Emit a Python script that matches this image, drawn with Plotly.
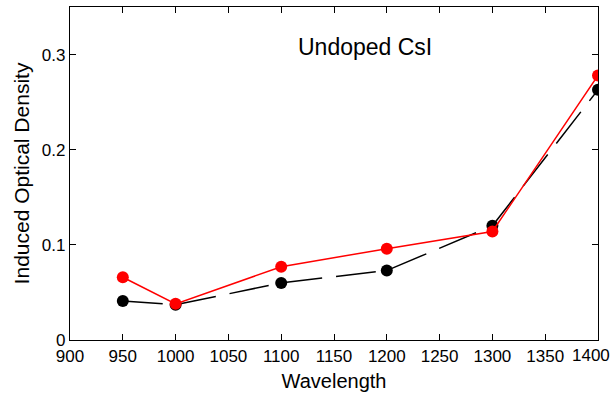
import plotly.graph_objects as go

wavelength = [950, 1000, 1100, 1200, 1300, 1400]
od_black = [0.041, 0.037, 0.060, 0.073, 0.120, 0.263]
od_red = [0.066, 0.038, 0.077, 0.096, 0.114, 0.278]
x_ticks = list(range(900, 1401, 50))
# last label (1400) is placed as an annotation so it can sit inside the page edge
x_ticklabels = [str(v) for v in x_ticks[:-1]] + [""]

fig = go.Figure()
fig.add_trace(go.Scatter(x=wavelength, y=od_black, mode="lines+markers",
                         line=dict(color="black", width=1.5, dash="40px,14px"),
                         marker=dict(color="black", size=12)))
fig.add_trace(go.Scatter(x=wavelength, y=od_red, mode="lines+markers",
                         line=dict(color="red", width=1.5),
                         marker=dict(color="red", size=12)))

axis_common = dict(showgrid=False, zeroline=False, showline=True, linecolor="black",
                   linewidth=1.2, mirror="ticks", ticks="inside", ticklen=6,
                   tickcolor="black", tickfont=dict(size=17, color="black"),
                   automargin=False)
fig.update_xaxes(range=[900, 1400], tickvals=x_ticks, ticktext=x_ticklabels,
                 title=dict(text="Wavelength", font=dict(size=20, color="black"), standoff=9),
                 **axis_common)
fig.update_yaxes(range=[0, 0.35], tickvals=[0, 0.1, 0.2, 0.3], ticktext=["0", "0.1", "0.2", "0.3"],
                 title=dict(text="Induced Optical Density", font=dict(size=21, color="black"), standoff=6),
                 **axis_common)
fig.add_annotation(text=str(x_ticks[-1]), x=x_ticks[-1], y=0, xref="x", yref="y",
                   showarrow=False, font=dict(size=17, color="black"),
                   xanchor="center", yanchor="middle", xshift=-7, yshift=-15)
fig.add_annotation(text="Undoped CsI", x=1179, y=0.308, xref="x", yref="y",
                   showarrow=False, font=dict(size=23, color="black"), xanchor="center")
fig.update_layout(width=614, height=399, margin=dict(l=70, r=16, t=7, b=59),
                  plot_bgcolor="white", paper_bgcolor="white", showlegend=False,
                  font=dict(family="Liberation Sans, Arial, sans-serif"))
fig.write_html("out.html")
